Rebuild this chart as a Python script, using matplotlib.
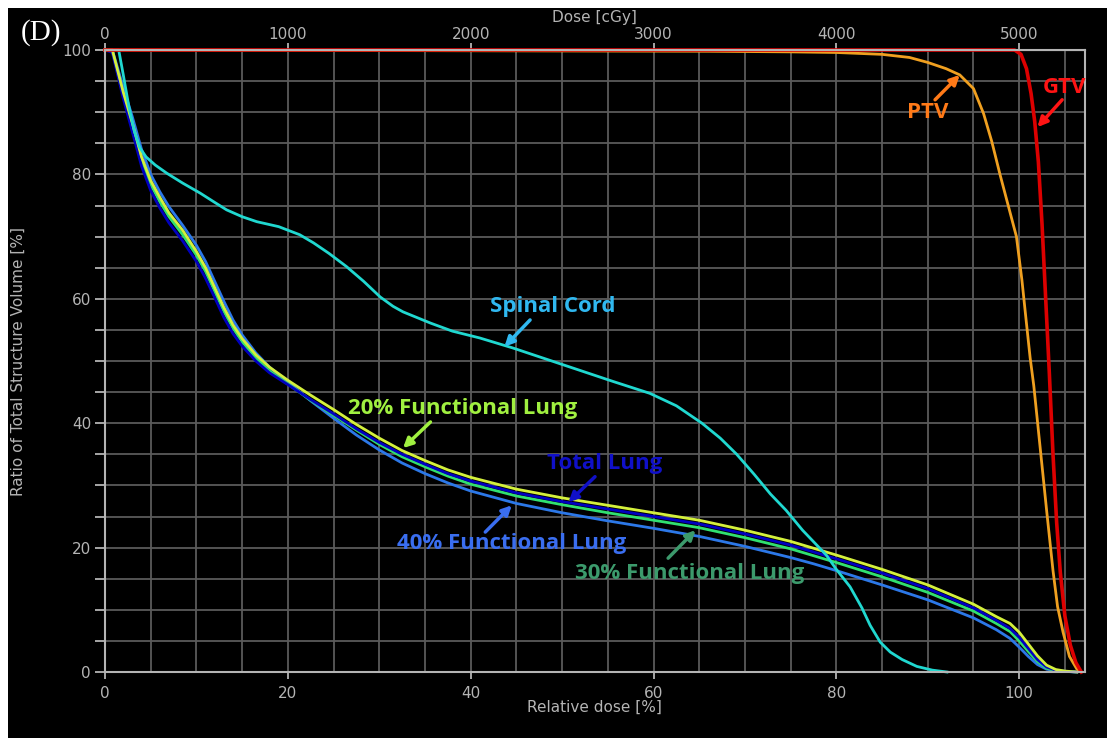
import matplotlib.pyplot as plt
from matplotlib.patches import Rectangle

# Cumulative DVH: relative dose [%] vs. ratio of total structure volume [%]
gtv_dose = [0, 99.5, 100.2, 100.8, 101.3, 101.7, 102.1, 102.5, 102.9, 103.3, 103.7,
            104.1, 104.5, 105.0, 105.6, 106.2, 106.8]
gtv_vol = [100, 100, 99.3, 97, 93, 88.5, 82, 72, 60, 48, 35,
           24, 16, 9, 4.3, 1.5, 0]

ptv_dose = [0, 66, 75, 80, 85, 88, 90, 92, 93.5, 95, 96.1, 97, 97.9, 98.8, 99.7,
            100.3, 100.8, 101.2, 101.6, 102.3, 103, 103.7, 104.2, 104.8, 105.5, 106.3, 106.8]
ptv_vol = [100, 99.8, 99.7, 99.6, 99.3, 98.8, 98.0, 97.0, 96.0, 93.8, 89.8, 85.3, 80, 75, 70,
           63, 56, 50.5, 46, 36, 26, 16.3, 10.5, 6.4, 2.5, 0.5, 0]

cord_dose = [0, 1.5, 2.0, 2.6, 3.2, 3.8, 4.5, 5.5, 6.75, 8.5, 10.4, 12, 13.3, 15, 16.6,
             19, 21.3, 22.8, 24.5, 26.4, 28.3, 30.1, 31.5, 32.6, 35.6, 38, 41, 44.6,
             50.1, 55.6, 59.6, 62.5, 65.3, 67.3, 69.1, 71, 72.8, 74.5, 76.3, 78.9, 80,
             81.5, 82.8, 83.7, 84.8, 85.9, 87.2, 88.8, 90.5, 92.1]
cord_vol = [100, 100, 96, 91, 87, 84.3, 82.8, 81.5, 80.2, 78.6, 77, 75.5, 74.3, 73.2, 72.4,
            71.6, 70.3, 69, 67.3, 65.2, 62.8, 60.3, 58.8, 57.9, 56.1, 54.8, 53.7, 52.1,
            49.4, 46.7, 44.8, 42.8, 40, 37.6, 35, 31.8, 28.6, 26, 22.8, 18.8, 16.5,
            13.7, 10.3, 7.5, 4.8, 3.2, 2, 0.9, 0.3, 0]

lung_dose = [0, 0.8, 2, 3, 4, 5, 6, 7, 8.5, 10, 11, 12, 13, 14, 15, 16.5, 18, 20, 22.5,
             25, 27.5, 30, 32.5, 35, 37.5, 40, 45, 50, 55, 60, 65, 70, 75, 77.5, 80, 85,
             90, 95, 97.5, 99, 100, 101, 102, 103, 104, 105, 106.3]
lung20_vol = [100, 100, 93.2, 88.2, 82.8, 79.0, 76.3, 73.8, 71.0, 67.6, 65.0, 61.8, 58.6,
              55.8, 53.6, 51.0, 49.0, 46.9, 44.5, 42.2, 39.8, 37.6, 35.6, 34.0, 32.5, 31.3,
              29.4, 28.0, 26.8, 25.6, 24.4, 22.8, 21.0, 19.9, 18.8, 16.5, 14.0, 10.9, 8.9,
              7.8, 6.4, 4.5, 2.6, 1.1, 0.4, 0.15, 0]
lung_total_vol = [100, 99.6, 92.2, 86.8, 81.3, 77.4, 74.6, 72.2, 69.3, 66.0, 63.3, 60.2, 57.0,
                  54.4, 52.4, 50.0, 48.1, 46.2, 43.8, 41.5, 39.1, 36.9, 35.0, 33.4, 31.9, 30.7,
                  28.8, 27.4, 26.2, 25.0, 23.8, 22.2, 20.4, 19.3, 18.2, 15.9, 13.4, 10.3, 8.3,
                  7.0, 5.6, 3.8, 2.0, 0.8, 0.3, 0.1, 0]
lung30_vol = [100, 99.8, 92.8, 87.6, 82.2, 78.4, 75.6, 73.2, 70.3, 67.0, 64.4, 61.2, 58.0,
              55.3, 53.1, 50.5, 48.4, 46.3, 43.7, 41.3, 38.9, 36.6, 34.6, 33.0, 31.5, 30.2,
              28.3, 26.9, 25.6, 24.4, 23.2, 21.6, 19.8, 18.7, 17.6, 15.3, 12.8, 9.8, 7.8,
              6.5, 5.0, 3.3, 1.7, 0.6, 0.25, 0.1, 0]
lung40_vol = [100, 100, 94.0, 89.2, 84.0, 80.0, 77.2, 74.8, 71.8, 68.6, 66.0, 62.8, 59.6,
              56.6, 54.2, 51.3, 49.0, 46.6, 43.6, 40.8, 38.1, 35.7, 33.6, 31.9, 30.4, 29.1,
              27.1, 25.6, 24.3, 23.1, 21.8, 20.2, 18.4, 17.4, 16.3, 14.0, 11.6, 8.7, 6.8,
              5.4, 4.0, 2.5, 1.2, 0.45, 0.2, 0.1, 0]

x_ticks = [0, 20, 40, 60, 80, 100]
y_ticks = [0, 20, 40, 60, 80, 100]
dose_ticks = [0, 1000, 2000, 3000, 4000, 5000]
prescription = 5000  # cGy at 100 %

grid_col = '#5a5a5a'
axis_col = '#b4b4b4'
label_font = 'Open Sans'

fig = plt.figure(figsize=(11.07, 7.38), dpi=100, facecolor='white')
fig.patches.append(Rectangle((8 / 1107, 0), 1, 1 - 8 / 738, transform=fig.transFigure,
                             facecolor='black', edgecolor='none', zorder=-10))

ax = fig.add_axes([105 / 1107, 1 - 672 / 738, 980 / 1107, 622 / 738])
ax.set_facecolor('black')
ax.set_xlim(0, 107.2)
ax.set_ylim(0, 100)

ax.set_xticks(x_ticks)
ax.set_xticks(range(0, 107, 5), minor=True)
ax.set_yticks(y_ticks)
ax.set_yticks(range(0, 101, 5), minor=True)
ax.grid(True, which='both', color=grid_col, lw=1.3)
ax.set_axisbelow(True)
ax.tick_params(axis='x', which='major', colors=axis_col, labelsize=11, length=5, width=1.3, pad=5)
ax.tick_params(axis='x', which='minor', length=0)
ax.tick_params(axis='y', which='both', colors=axis_col, labelsize=11, length=7, width=1.3, pad=3)
for sp in ax.spines.values():
    sp.set_color(axis_col)
    sp.set_linewidth(1.5)

ax.set_xlabel('Relative dose [%]', color=axis_col, fontsize=11)
ax.xaxis.set_label_coords(0.499, -0.045)
ax.set_ylabel('Ratio of Total Structure Volume [%]', color=axis_col, fontsize=11)
ax.yaxis.set_label_coords(-0.081, 0.50)

top = ax.secondary_xaxis('top', functions=(lambda r: r * prescription / 100,
                                           lambda d: d * 100 / prescription))
top.set_xticks(dose_ticks)
top.tick_params(colors=axis_col, labelsize=11, length=5, width=1.3, pad=1)
top.spines['top'].set_color(axis_col)
ax.text(0.499, 1.053, 'Dose [cGy]', transform=ax.transAxes, color=axis_col, fontsize=11,
        ha='center', va='center')

lw = 2.0
ax.plot(lung_dose, lung40_vol, color='#2c78e8', lw=lw, clip_on=False)
ax.plot(lung_dose, lung30_vol, color='#30e070', lw=lw, clip_on=False)
ax.plot(lung_dose, lung_total_vol, color='#0000c0', lw=lw, clip_on=False)
ax.plot(lung_dose, lung20_vol, color='#d4f03c', lw=lw, clip_on=False)
ax.plot(cord_dose, cord_vol, color='#20d8d0', lw=lw, clip_on=False)
ax.plot(ptv_dose, ptv_vol, color='#f0a020', lw=lw, clip_on=False)
ax.plot(gtv_dose, gtv_vol, color='#dd0000', lw=2.6, clip_on=False)

# structure names with pointer arrows: (text, colour, text pos, arrow tail, arrow head)
labels = [
    ('PTV', '#ff7a18', (90.0, 89.9), (90.8, 92.0), (93.5, 96.0)),
    ('GTV', '#ff1414', (105.0, 93.9), (104.7, 92.0), (102.0, 87.6)),
    ('Spinal Cord', '#30b8f0', (49.0, 58.7), (46.5, 56.6), (43.7, 52.3)),
    ('20% Functional Lung', '#a0f040', (39.1, 42.4), (35.6, 40.2), (32.6, 36.0)),
    ('Total Lung', '#1010c8', (54.6, 33.6), (53.6, 31.4), (50.7, 27.3)),
    ('40% Functional Lung', '#3a6ef0', (44.5, 20.6), (41.6, 22.5), (44.5, 26.8)),
    ('30% Functional Lung', '#3c9a6c', (64.0, 15.9), (61.6, 18.3), (64.6, 22.8)),
]
for name, col, pos, tail, head in labels:
    ax.text(pos[0], pos[1], name, color=col, fontsize=16, fontweight='bold',
            family=label_font, ha='center', va='center', zorder=6)
    ax.annotate('', xy=head, xytext=tail,
                arrowprops=dict(arrowstyle='-|>', color=col, lw=2.5, mutation_scale=14,
                                shrinkA=0, shrinkB=0), zorder=6)

fig.text(41 / 1107, 1 - 33 / 738, '(D)', color='white', fontsize=21,
         family='Liberation Serif', ha='center', va='center')

fig.savefig('out.png', dpi=100, facecolor=fig.get_facecolor())
